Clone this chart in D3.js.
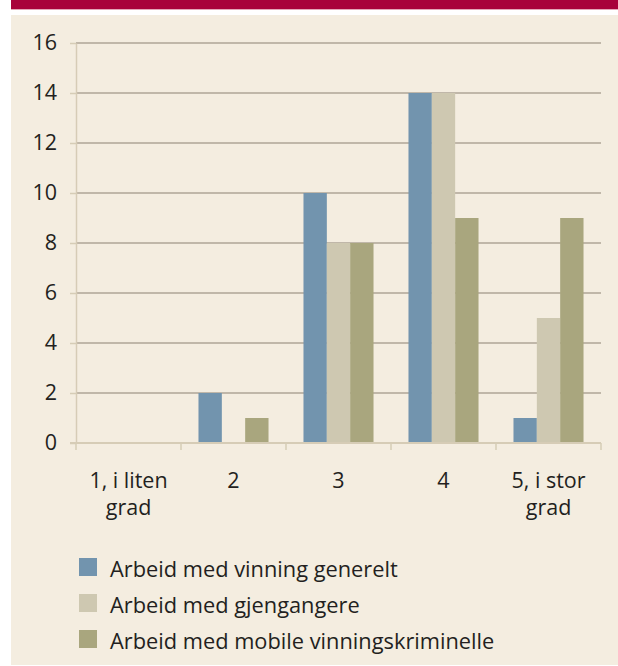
<!DOCTYPE html>
<html>
<head>
<meta charset="utf-8">
<script src="https://cdn.jsdelivr.net/npm/d3@7"></script>
<style>
  body { margin: 0; background: #ffffff; }
  svg { display: block; }
</style>
</head>
<body>
<svg id="chart" width="618" height="666"></svg>
<script>
// chart data
let categories = ["1, i liten grad", "2", "3", "4", "5, i stor grad"];
let categoryLines = [["1, i liten", "grad"], ["2"], ["3"], ["4"], ["5, i stor", "grad"]];
let seriesNames = ["Arbeid med vinning generelt", "Arbeid med gjengangere", "Arbeid med mobile vinningskriminelle"];
let vinningGenerelt = [0, 2, 10, 14, 1];
let gjengangere = [0, 0, 8, 14, 5];
let mobileVinning = [0, 1, 8, 9, 9];
let yTicks = [0, 2, 4, 6, 8, 10, 12, 14, 16];

let seriesValues = [vinningGenerelt, gjengangere, mobileVinning];
let colors = ["#7294ae", "#cec8b1", "#a9a67e"];
let textColor = "#231f20";
let fontFamily = "'Open Sans', 'Noto Sans', sans-serif";

let width = 618;
let height = 666;
let margin = ({top: 43, right: 17, bottom: 223, left: 76});

let svg = d3.select("#chart");

// red banner on top, white gap, cream panel
svg.append("rect")
  .attr("x", 11).attr("y", 0)
  .attr("width", width - 11).attr("height", 9)
  .attr("fill", "#a8023a");
svg.append("rect")
  .attr("x", 11).attr("y", 9)
  .attr("width", width - 11).attr("height", 1)
  .attr("fill", "#e3a6b6");
svg.append("rect")
  .attr("x", 11).attr("y", 15)
  .attr("width", width - 11).attr("height", 650)
  .attr("fill", "#f4ede0");

let x0 = d3.scaleBand()
  .domain(categories)
  .range([margin.left, width - margin.right])
  .paddingInner(0.333)
  .paddingOuter(0.1665);

let x1 = d3.scaleBand()
  .domain(d3.range(seriesNames.length))
  .range([0, x0.bandwidth()]);

let y = d3.scaleLinear()
  .domain([0, 16])
  .range([height - margin.bottom, margin.top]);

// gridlines
svg.append("g")
  .selectAll("line")
  .data(yTicks.filter(d => d > 0))
  .enter()
  .append("line")
  .attr("x1", margin.left)
  .attr("x2", width - margin.right)
  .attr("y1", d => y(d))
  .attr("y2", d => y(d))
  .attr("stroke", "#8c8173")
  .attr("stroke-width", 1.2);

// y axis: light line with small ticks
let yAxis = svg.append("g")
  .attr("transform", "translate(" + margin.left + ",0)")
  .call(d3.axisLeft(y).tickValues(yTicks).tickSize(6).tickSizeOuter(0).tickPadding(13));
yAxis.select(".domain").attr("stroke", "#d6ccb6").attr("stroke-width", 1.5);
yAxis.selectAll(".tick line").attr("stroke", "#d6ccb6").attr("stroke-width", 1.5);
yAxis.selectAll(".tick text")
  .attr("fill", textColor)
  .style("font-family", fontFamily)
  .style("font-size", "21.5px");

// bars
let groups = svg.append("g")
  .selectAll("g")
  .data(categories)
  .enter()
  .append("g")
  .attr("transform", d => "translate(" + x0(d) + ",0)");

groups.selectAll("rect")
  .data((d, i) => seriesValues.map((s, j) => ({series: j, value: s[i]})))
  .enter()
  .append("rect")
  .attr("x", d => x1(d.series))
  .attr("width", x1.bandwidth())
  .attr("y", d => y(d.value))
  .attr("height", d => y(0) - y(d.value))
  .attr("fill", d => colors[d.series]);

// x axis
let xTickPositions = [margin.left].concat(categories.map(c => x0(c) + x0.bandwidth() / 2 + x0.step() / 2));
let xAxisG = svg.append("g");
xAxisG.append("line")
  .attr("x1", margin.left - 6)
  .attr("x2", width - margin.right)
  .attr("y1", y(0))
  .attr("y2", y(0))
  .attr("stroke", "#d6ccb6")
  .attr("stroke-width", 2);
xAxisG.selectAll(".xtick")
  .data(xTickPositions)
  .enter()
  .append("line")
  .attr("class", "xtick")
  .attr("x1", d => d)
  .attr("x2", d => d)
  .attr("y1", y(0))
  .attr("y2", y(0) + 7)
  .attr("stroke", "#d6ccb6")
  .attr("stroke-width", 1.5);

let xLabels = svg.append("g")
  .selectAll("text")
  .data(categories)
  .enter()
  .append("text")
  .attr("x", d => x0(d) + x0.bandwidth() / 2)
  .attr("y", 488)
  .attr("text-anchor", "middle")
  .attr("fill", textColor)
  .style("font-family", fontFamily)
  .style("font-size", "21.5px");

xLabels.selectAll("tspan")
  .data((d, i) => categoryLines[i])
  .enter()
  .append("tspan")
  .attr("x", function() { return d3.select(this.parentNode).attr("x"); })
  .attr("dy", (d, i) => i === 0 ? 0 : 27)
  .text(d => d);

// legend
let legend = svg.append("g")
  .selectAll("g")
  .data(seriesNames)
  .enter()
  .append("g")
  .attr("transform", (d, i) => "translate(79," + (567 + i * 36) + ")");

legend.append("rect")
  .attr("x", 0)
  .attr("y", -9)
  .attr("width", 18)
  .attr("height", 18)
  .attr("fill", (d, i) => colors[i]);

legend.append("text")
  .attr("x", 31)
  .attr("y", 10)
  .attr("fill", textColor)
  .style("font-family", fontFamily)
  .style("font-size", "21.8px")
  .text(d => d);
</script>
</body>
</html>
